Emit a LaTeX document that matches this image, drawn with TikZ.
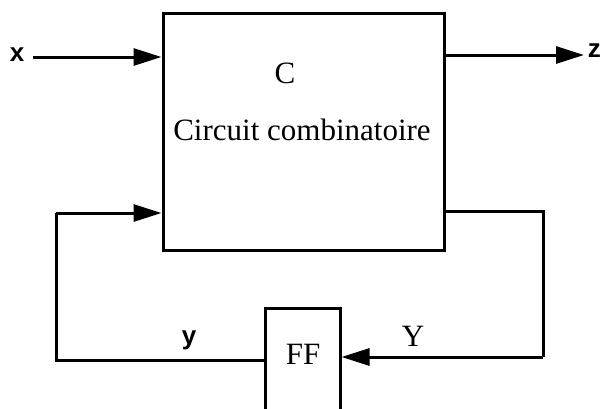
\documentclass[tikz,border=0pt]{standalone}
\usepackage{fontspec}
\setmainfont{Liberation Serif}
\newfontfamily\labsans{Liberation Sans}
\usetikzlibrary{arrows.meta,calc}
\begin{document}
\begin{tikzpicture}[x=1pt,y=-1pt,
  wire/.style={line width=3pt},
  arr/.style={wire,-{Triangle[length=28pt,width=17pt]}},
  blk/.style={draw,line width=3pt,inner sep=0pt},
  serif/.style={font=\fontsize{31}{33}\selectfont},
  sanslab/.style={font=\labsans\bfseries\fontsize{26}{28}\selectfont}]
\useasboundingbox (0,0) rectangle (601,408);
\clip (0,0) rectangle (601,408);
% main block
\node[blk,minimum width=281pt,minimum height=237pt] (main) at (303.5,131.5) {};
\node[serif] (ctitle) at (285,73) {C};
\node[serif,anchor=base] (cdesc) at (302,140) {Circuit combinatoire};
% FF block (open at bottom edge of picture)
\node[blk,minimum width=75pt,minimum height=110pt] (ff) at (302.5,363) {};
\node[serif] (fftext) at (303,354) {FF};
% coordinates
\coordinate (xin) at (33,57);
\coordinate (zout) at (584,55);
\coordinate (rt) at (543,211);
\coordinate (rb) at (543,357);
\coordinate (lb) at (56,360);
\coordinate (lt) at (56,213);
% labels
\node[sanslab] (xl) at (17,55) {x};
\node[sanslab,anchor=east,inner sep=0pt] (zl) at (601,51) {z};
\node[sanslab] (yl) at (189,340) {y};
\node[serif] (Yl) at (413,336) {Y};
% connectors
\draw[arr] (xin) -- (main.west |- xin);
\draw[arr] (main.east |- zout) -- (zout);
\draw[wire] (main.east |- rt) -- (rt) -- (rb);
\draw[arr] (rb) -- (ff.east |- rb);
\draw[wire] (ff.west |- lb) -- (lb) -- (lt);
\draw[arr] (lt) -- (main.west |- lt);
\end{tikzpicture}
\end{document}
